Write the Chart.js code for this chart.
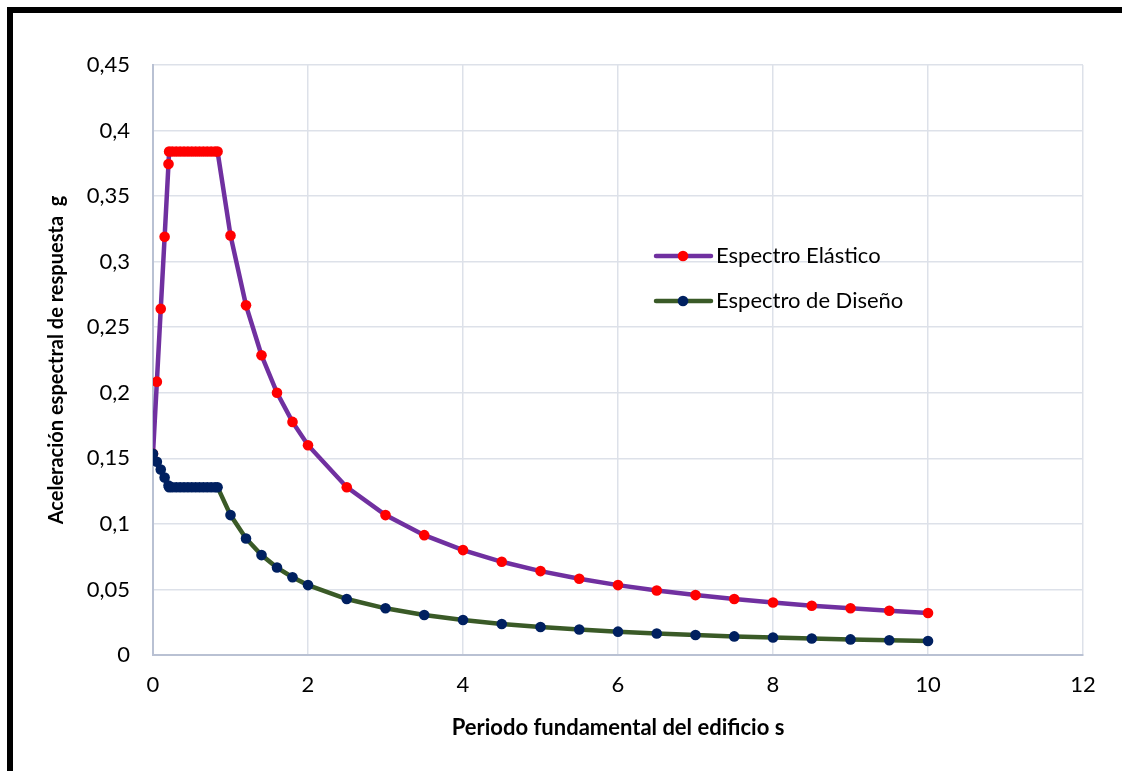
<!DOCTYPE html>
<html lang="es">
<head>
<meta charset="utf-8">
<title>Espectro de respuesta</title>
<script src="https://cdn.jsdelivr.net/npm/chart.js@4.4.1/dist/chart.umd.min.js"></script>
<style>
  html, body { margin: 0; padding: 0; background: #ffffff; }
  #wrap { position: relative; width: 1122px; height: 771px; overflow: hidden; }
  canvas { display: block; }
</style>
</head>
<body>
<div id="wrap"><canvas id="espectro" width="1122" height="771"></canvas></div>
<script>
// Periodos T (s)
const periodos = [0, 0.05, 0.1, 0.15, 0.2, 0.208, 0.25, 0.3, 0.35, 0.4, 0.45, 0.5, 0.55, 0.6, 0.65, 0.7, 0.75, 0.8, 0.833,
  1.0, 1.2, 1.4, 1.6, 1.8, 2.0, 2.5, 3.0, 3.5, 4.0, 4.5, 5.0, 5.5, 6.0, 6.5, 7.0, 7.5, 8.0, 8.5, 9.0, 9.5, 10.0];

// Espectro elástico Sa (g)
const espectroElastico = [0.1535, 0.2085, 0.264, 0.319, 0.3745, 0.384, 0.384, 0.384, 0.384, 0.384, 0.384, 0.384, 0.384, 0.384, 0.384, 0.384, 0.384, 0.384, 0.384,
  0.32, 0.2667, 0.2286, 0.2, 0.1778, 0.16, 0.128, 0.1067, 0.0914, 0.08, 0.0711, 0.064, 0.0582, 0.0533, 0.0492, 0.0457, 0.0427, 0.04, 0.0376, 0.0356, 0.0337, 0.032];

// Espectro de diseño Sd (g)
const espectroDiseno = [0.1535, 0.1474, 0.1414, 0.1353, 0.1293, 0.128, 0.128, 0.128, 0.128, 0.128, 0.128, 0.128, 0.128, 0.128, 0.128, 0.128, 0.128, 0.128, 0.128,
  0.1067, 0.0889, 0.0762, 0.0667, 0.0593, 0.0533, 0.0427, 0.0356, 0.0305, 0.0267, 0.0237, 0.0213, 0.0194, 0.0178, 0.0164, 0.0152, 0.0142, 0.0133, 0.0126, 0.0119, 0.0112, 0.0107];

// Etiquetas de los ejes
const etiquetasY = ['0', '0,05', '0,1', '0,15', '0,2', '0,25', '0,3', '0,35', '0,4', '0,45'];
const etiquetasX = ['0', '2', '4', '6', '8', '10', '12'];

const serieElastica = 'Espectro Elástico';
const serieDiseno = 'Espectro de Diseño';

const FUENTE = "Lato, 'Open Sans', 'DejaVu Sans', sans-serif";

const puntos = (ys) => periodos.map((t, i) => ({ x: t, y: ys[i] }));

// Marco negro superior e izquierdo
const marco = {
  id: 'marco',
  afterDraw(chart) {
    const c = chart.ctx;
    c.save();
    c.fillStyle = '#000000';
    c.fillRect(7, 7, chart.width - 7, 6);
    c.fillRect(7, 7, 6, chart.height - 7);
    c.restore();
  }
};

// Leyenda dentro del área de trazado
const leyenda = {
  id: 'leyenda',
  afterDraw(chart) {
    const c = chart.ctx;
    const x0 = 656, x1 = 711, xm = 683, xt = 716;
    const filas = [256, 301];
    c.save();
    chart.data.datasets.forEach((ds, i) => {
      const y = filas[i];
      c.strokeStyle = ds.borderColor;
      c.lineWidth = ds.borderWidth;
      c.lineCap = 'round';
      c.beginPath();
      c.moveTo(x0, y);
      c.lineTo(x1, y);
      c.stroke();
      c.fillStyle = ds.pointBackgroundColor;
      c.beginPath();
      c.arc(xm, y, ds.pointRadius, 0, Math.PI * 2);
      c.fill();
      c.fillStyle = '#000000';
      c.font = '22px ' + FUENTE;
      c.textBaseline = 'middle';
      c.textAlign = 'left';
      c.fillText(ds.label, xt, y);
    });
    c.restore();
  }
};

new Chart(document.getElementById('espectro'), {
  type: 'line',
  data: {
    datasets: [
      {
        label: serieElastica,
        data: puntos(espectroElastico),
        borderColor: '#7030A0',
        borderWidth: 4.5,
        pointBackgroundColor: '#FF0000',
        pointBorderColor: '#FF0000',
        pointBorderWidth: 0,
        pointRadius: 5.3,
        tension: 0,
        order: 1
      },
      {
        label: serieDiseno,
        data: puntos(espectroDiseno),
        borderColor: '#3A5A27',
        borderWidth: 4.5,
        pointBackgroundColor: '#002060',
        pointBorderColor: '#002060',
        pointBorderWidth: 0,
        pointRadius: 5.3,
        tension: 0,
        order: 0
      }
    ]
  },
  options: {
    responsive: false,
    animation: false,
    devicePixelRatio: 1,
    layout: { padding: { left: 45, right: 39, top: 65, bottom: 30 } },
    plugins: {
      legend: { display: false },
      tooltip: { enabled: false }
    },
    scales: {
      x: {
        type: 'linear',
        min: 0,
        max: 12,
        ticks: {
          stepSize: 2,
          color: '#000000',
          padding: 17,
          font: { family: FUENTE, size: 22 },
          callback: (v, i) => etiquetasX[i]
        },
        grid: { color: '#DDE1E9', lineWidth: 1.5, drawTicks: false },
        border: { color: '#B9C1D3', width: 2 },
        title: {
          display: true,
          text: 'Periodo fundamental del edificio s',
          color: '#000000',
          font: { family: FUENTE, size: 22, weight: 'bold' },
          padding: 0
        },
        afterFit: (s) => { s.height = 86; }
      },
      y: {
        type: 'linear',
        min: 0,
        max: 0.45,
        ticks: {
          stepSize: 0.05,
          color: '#000000',
          padding: 23,
          font: { family: FUENTE, size: 22 },
          callback: (v, i) => etiquetasY[i]
        },
        grid: { color: '#DDE1E9', lineWidth: 1.5, drawTicks: false },
        border: { color: '#B9C1D3', width: 2 },
        title: {
          display: true,
          text: 'Aceleración espectral de respuesta  g',
          color: '#000000',
          font: { family: FUENTE, size: 20, weight: 'bold' },
          padding: 0
        },
        afterFit: (s) => { s.width = 108; }
      }
    }
  },
  plugins: [marco, leyenda]
});
</script>
</body>
</html>
